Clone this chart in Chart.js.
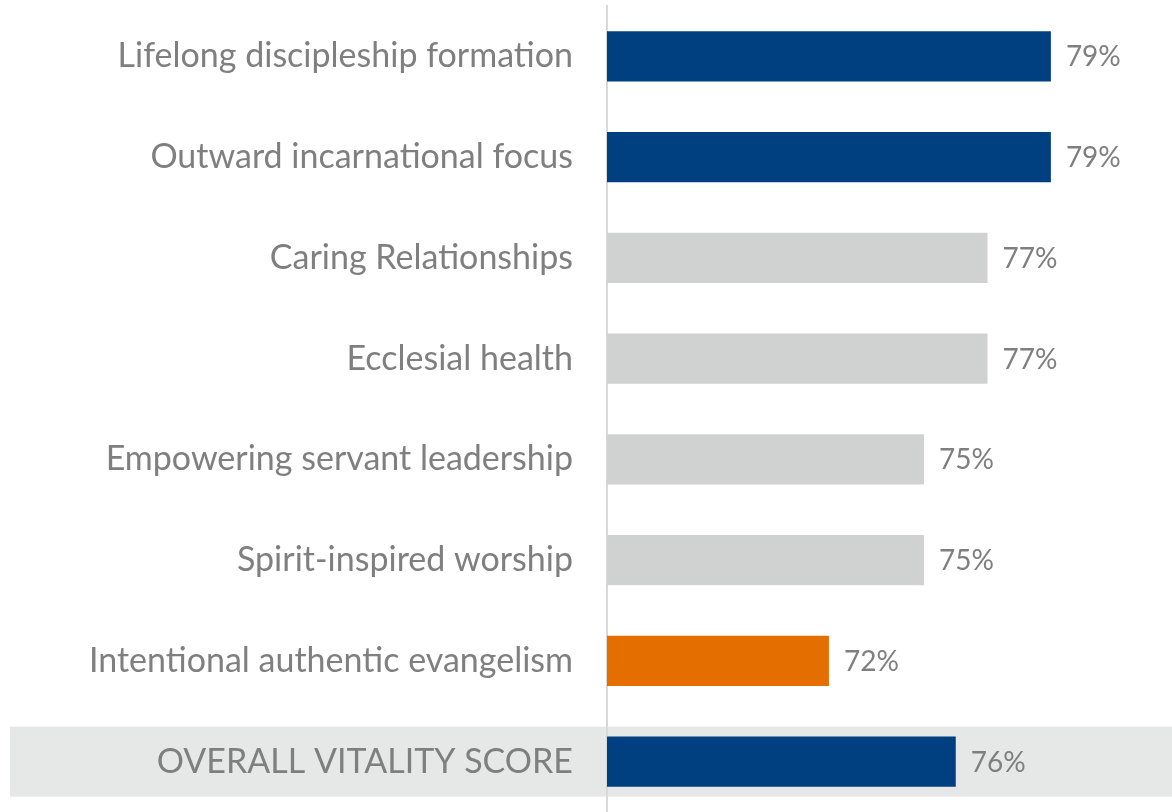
<!DOCTYPE html>
<html>
<head>
<meta charset="utf-8">
<script src="https://cdn.jsdelivr.net/npm/chart.js@4/dist/chart.umd.min.js"></script>
<style>
  html, body { margin: 0; padding: 0; background: #ffffff; }
  #wrap { width: 1172px; height: 812px; position: relative; }
</style>
</head>
<body>
<div id="wrap"><canvas id="chart"></canvas></div>
<script>
// Category labels, top to bottom
const categories = [
  'Lifelong discipleship formation',
  'Outward incarnational focus',
  'Caring Relationships',
  'Ecclesial health',
  'Empowering servant leadership',
  'Spirit-inspired worship',
  'Intentional authentic evangelism',
  'OVERALL VITALITY SCORE'
];

// Scores in percent
const scores = [79, 79, 77, 77, 75, 75, 72, 76];

// Bar colours (blue = top, grey = middle, orange = lowest, blue = overall)
const barColors = ['#003f80', '#003f80', '#d0d1d1', '#d0d1d1', '#d0d1d1', '#d0d1d1', '#e46f00', '#003f80'];

// index of the highlighted summary row
const highlightRow = 7;

const FONT = 'Lato, "Open Sans", sans-serif';

// Grey band behind the overall score row
const rowBand = {
  id: 'rowBand',
  beforeDraw(chart) {
    const { ctx, scales: { y } } = chart;
    const yc = y.getPixelForValue(highlightRow);
    ctx.save();
    ctx.fillStyle = '#e6e7e7';
    ctx.fillRect(10, yc - 35, chart.width - 10, 70);
    ctx.restore();
  }
};

// Value labels at the end of each bar
const valueLabels = {
  id: 'valueLabels',
  afterDatasetsDraw(chart) {
    const { ctx } = chart;
    const meta = chart.getDatasetMeta(0);
    ctx.save();
    ctx.font = '28px ' + FONT;
    ctx.fillStyle = '#7f7f7f';
    ctx.textAlign = 'left';
    ctx.textBaseline = 'middle';
    meta.data.forEach((bar, i) => {
      ctx.fillText(scores[i] + '%', bar.x + 15, bar.y + 1);
    });
    ctx.restore();
  }
};

new Chart(document.getElementById('chart'), {
  type: 'bar',
  data: {
    labels: categories,
    datasets: [{
      data: scores,
      backgroundColor: barColors,
      borderWidth: 0,
      barPercentage: 0.5,
      categoryPercentage: 1.0
    }]
  },
  options: {
    indexAxis: 'y',
    responsive: true,
    maintainAspectRatio: false,
    animation: false,
    layout: { padding: { top: 6, right: 26, bottom: 0, left: 0 } },
    plugins: {
      legend: { display: false },
      tooltip: { enabled: false }
    },
    scales: {
      x: {
        display: false,
        min: 65,
        max: 82
      },
      y: {
        grid: { display: false, drawTicks: false },
        border: { display: true, color: '#d9d9d9', width: 2 },
        ticks: {
          color: '#7f7f7f',
          font: { family: FONT, size: 34 },
          padding: 34
        },
        afterFit(scale) {
          scale.width = 607;
          scale.paddingTop = 0;
          scale.paddingBottom = 0;
        }
      }
    }
  },
  plugins: [rowBand, valueLabels]
});
</script>
</body>
</html>
